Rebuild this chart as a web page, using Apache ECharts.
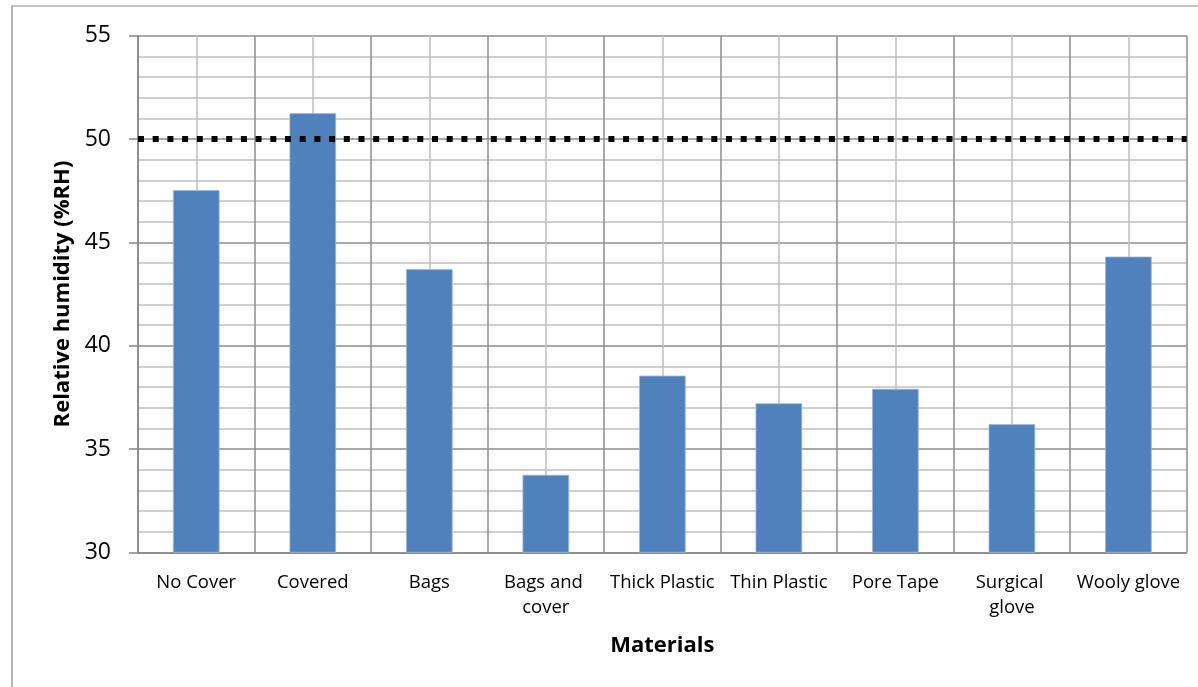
<!DOCTYPE html>
<html>
<head>
<meta charset="utf-8">
<script src="https://cdn.jsdelivr.net/npm/echarts@6/dist/echarts.min.js"></script>
<style>
html,body{margin:0;padding:0;background:#fff;}
#chart{width:1198px;height:687px;}
</style>
</head>
<body>
<div id="chart"></div>
<script>
const categories = ["No Cover", "Covered", "Bags", "Bags and cover", "Thick Plastic", "Thin Plastic", "Pore Tape", "Surgical glove", "Wooly glove"];
const humidity = [47.53, 51.25, 43.70, 33.75, 38.55, 37.21, 37.91, 36.20, 44.31];
const thresholdValue = 50;
const yTicks = [30, 35, 40, 45, 50, 55];

const FONT = '"Open Sans", Lato, sans-serif';
const chart = echarts.init(document.getElementById('chart'), null, {renderer: 'canvas'});
chart.setOption({
  animation: false,
  backgroundColor: '#fff',
  graphic: [{
    type: 'rect',
    shape: {x: 12, y: 6, width: 1300, height: 800},
    style: {fill: 'none', stroke: '#878787', lineWidth: 1.2},
    silent: true, z: -10
  }],
  grid: {left: 138, top: 35.7, right: 11.3, bottom: 134.7, containLabel: false},
  xAxis: [{
    type: 'category',
    data: categories,
    boundaryGap: true,
    name: 'Materials',
    nameLocation: 'middle',
    nameGap: 82,
    nameTextStyle: {fontFamily: FONT, fontWeight: 'bold', fontSize: 22, color: '#000'},
    axisLine: {show: true, lineStyle: {color: '#868686', width: 1.5}},
    axisTick: {show: false},
    axisLabel: {
      interval: 0, margin: 18, fontFamily: FONT, fontSize: 18.5, color: '#000',
      width: 110, overflow: 'break', lineHeight: 25
    },
    splitLine: {show: true, interval: 0, lineStyle: {color: '#8c8c8c', width: 1.5}}
  }, {
    type: 'value',
    min: 0, max: 9, interval: 1,
    position: 'bottom',
    axisLine: {show: false}, axisTick: {show: false}, axisLabel: {show: false},
    splitLine: {show: false},
    minorTick: {show: false, splitNumber: 2},
    minorSplitLine: {show: true, lineStyle: {color: '#c0c0c0', width: 1.5}}
  }],
  yAxis: {
    type: 'value',
    min: yTicks[0], max: yTicks[yTicks.length - 1], interval: 5,
    name: 'Relative humidity (%RH)',
    nameLocation: 'middle',
    nameGap: 64,
    nameRotate: 90,
    nameTextStyle: {fontFamily: FONT, fontWeight: 'bold', fontSize: 22, color: '#000'},
    axisLine: {show: true, lineStyle: {color: '#868686', width: 1.5}},
    axisTick: {show: true, length: 9, inside: false, lineStyle: {color: '#868686', width: 1.5}},
    axisLabel: {margin: 27, fontFamily: FONT, fontSize: 23, color: '#000'},
    splitLine: {show: true, lineStyle: {color: '#8c8c8c', width: 1.5}},
    minorTick: {show: false, splitNumber: 5},
    minorSplitLine: {show: true, lineStyle: {color: '#c0c0c0', width: 1.5}}
  },
  series: [{
    type: 'bar',
    xAxisIndex: 0,
    data: humidity,
    barWidth: '40%',
    itemStyle: {color: '#4F81BD', borderColor: '#9db9dc', borderWidth: 0.8},
    z: 3,
    markLine: {
      silent: true,
      symbol: ['none', 'none'],
      label: {show: false},
      z: 5,
      lineStyle: {color: '#000', width: 6, type: [6, 8.7], cap: 'butt'},
      data: [{yAxis: thresholdValue}]
    }
  }]
});
</script>
</body>
</html>
